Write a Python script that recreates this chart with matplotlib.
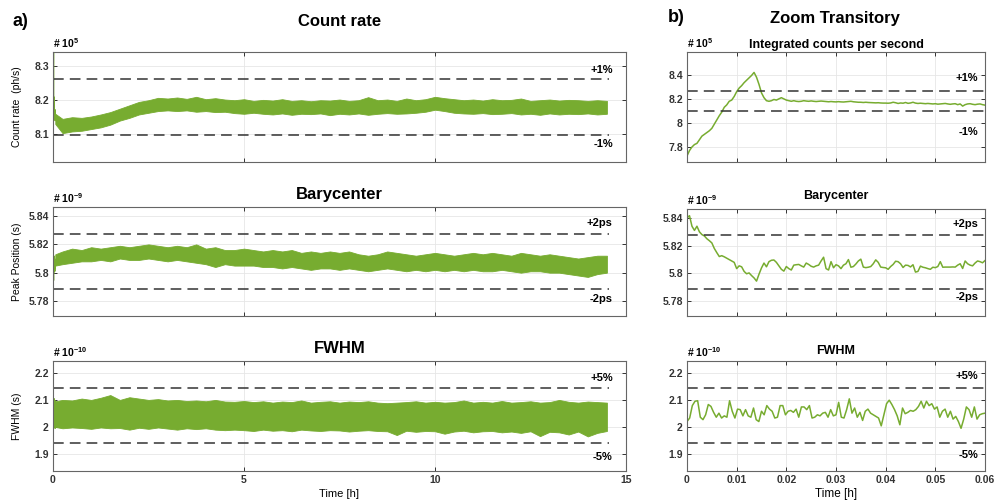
import numpy as np
import matplotlib
matplotlib.use('Agg')
import matplotlib.pyplot as plt

plt.rcParams['font.family'] = ['Liberation Sans', 'DejaVu Sans']
plt.rcParams['font.weight'] = 'bold'
plt.rcParams['mathtext.fontset'] = 'custom'
plt.rcParams['mathtext.rm'] = 'Liberation Sans:bold'
plt.rcParams['mathtext.bf'] = 'Liberation Sans:bold'
plt.rcParams['mathtext.default'] = 'bf'

green = '#77AC30'

## long run: noisy band drawn from its upper / lower envelope
t_long = [0.06, 0.25, 0.5, 0.75, 1.0, 1.25, 1.5, 1.75, 2.0, 2.25, 2.5, 2.75, 3.0, 3.25, 3.5, 3.75,
          4.0, 4.25, 4.5, 4.75, 5.0, 5.25, 5.5, 5.75, 6.0, 6.25, 6.5, 6.75, 7.0, 7.25, 7.5, 7.75,
          8.0, 8.25, 8.5, 8.75, 9.0, 9.25, 9.5, 9.75, 10.0, 10.25, 10.5, 10.75, 11.0, 11.25, 11.5,
          11.75, 12.0, 12.25, 12.5, 12.75, 13.0, 13.25, 13.5, 13.75, 14.0, 14.25, 14.5]

rate_hi = [8.16, 8.145, 8.15, 8.148, 8.152, 8.158, 8.165, 8.175, 8.185, 8.195, 8.2, 8.207, 8.205, 8.208,
           8.204, 8.21, 8.203, 8.206, 8.202, 8.2, 8.203, 8.198, 8.201, 8.199, 8.203, 8.198, 8.2, 8.197,
           8.2, 8.199, 8.202, 8.198, 8.2, 8.209, 8.2, 8.202, 8.198, 8.205, 8.2, 8.203, 8.21, 8.206, 8.203,
           8.2, 8.202, 8.199, 8.203, 8.2, 8.201, 8.205, 8.198, 8.2, 8.202, 8.199, 8.201, 8.2, 8.198, 8.2, 8.198]
rate_lo = [8.13, 8.103, 8.108, 8.11, 8.115, 8.12, 8.128, 8.14, 8.148, 8.158, 8.163, 8.168, 8.17, 8.168,
           8.17, 8.166, 8.168, 8.165, 8.166, 8.162, 8.16, 8.163, 8.16, 8.158, 8.161, 8.157, 8.16, 8.159,
           8.161, 8.156, 8.16, 8.158, 8.161, 8.157, 8.16, 8.162, 8.16, 8.161, 8.163, 8.166, 8.172, 8.168,
           8.163, 8.161, 8.16, 8.162, 8.159, 8.16, 8.162, 8.158, 8.16, 8.157, 8.161, 8.158, 8.16, 8.159,
           8.161, 8.158, 8.16]

bary_hi = [5.813, 5.815, 5.817, 5.816, 5.818, 5.817, 5.818, 5.819, 5.818, 5.819, 5.82, 5.819, 5.818, 5.819,
           5.818, 5.82, 5.817, 5.818, 5.816, 5.816, 5.817, 5.816, 5.815, 5.816, 5.815, 5.816, 5.814, 5.815,
           5.814, 5.815, 5.814, 5.815, 5.813, 5.812, 5.813, 5.815, 5.814, 5.813, 5.812, 5.813, 5.814, 5.813,
           5.812, 5.813, 5.814, 5.813, 5.814, 5.813, 5.812, 5.814, 5.813, 5.812, 5.813, 5.812, 5.811, 5.81,
           5.811, 5.812, 5.812]
bary_lo = [5.805, 5.806, 5.807, 5.808, 5.808, 5.809, 5.808, 5.81, 5.809, 5.809, 5.81, 5.809, 5.808, 5.809,
           5.808, 5.807, 5.806, 5.804, 5.806, 5.805, 5.805, 5.805, 5.804, 5.804, 5.803, 5.804, 5.803, 5.802,
           5.803, 5.803, 5.802, 5.803, 5.802, 5.801, 5.802, 5.803, 5.802, 5.801, 5.802, 5.801, 5.802, 5.801,
           5.802, 5.801, 5.802, 5.801, 5.801, 5.802, 5.801, 5.8, 5.801, 5.801, 5.8, 5.8, 5.799, 5.798,
           5.797, 5.799, 5.8]

fwhm_hi = [2.095, 2.1, 2.098, 2.105, 2.1, 2.108, 2.118, 2.1, 2.11, 2.105, 2.1, 2.103, 2.098, 2.1, 2.096,
           2.098, 2.095, 2.1, 2.094, 2.093, 2.096, 2.092, 2.095, 2.09, 2.094, 2.092, 2.098, 2.09, 2.093,
           2.095, 2.09, 2.094, 2.092, 2.095, 2.09, 2.088, 2.09, 2.092, 2.095, 2.09, 2.093, 2.09, 2.092,
           2.098, 2.09, 2.093, 2.09, 2.096, 2.09, 2.092, 2.095, 2.09, 2.092, 2.1, 2.093, 2.09, 2.094,
           2.092, 2.09]
fwhm_lo = [2.0, 1.995, 1.998, 1.996, 1.993, 1.998, 1.995, 1.996, 1.99, 1.997, 1.993, 1.998, 1.994, 1.99,
           1.995, 1.992, 1.995, 1.99, 1.988, 1.99, 1.988, 1.985, 1.99, 1.986, 1.988, 1.984, 1.99, 1.987,
           1.985, 1.988, 1.987, 1.983, 1.986, 1.988, 1.985, 1.984, 1.97, 1.986, 1.982, 1.985, 1.984, 1.975,
           1.983, 1.986, 1.98, 1.984, 1.985, 1.98, 1.983, 1.978, 1.984, 1.966, 1.982, 1.98, 1.972, 1.983,
           1.965, 1.978, 1.985]

## first 0.06 h (zoom)
rate_zoom = [7.725, 7.77, 7.80, 7.82, 7.83, 7.86, 7.89, 7.905, 7.92, 7.935,
             7.955, 7.99, 8.025, 8.06, 8.09, 8.13, 8.15, 8.18, 8.19, 8.22,
             8.26, 8.29, 8.31, 8.335, 8.355, 8.375, 8.395, 8.42, 8.38, 8.32,
             8.25, 8.21, 8.185, 8.18, 8.185, 8.195, 8.19, 8.2, 8.21, 8.2,
             8.19, 8.185, 8.18, 8.185, 8.18, 8.178, 8.18, 8.185, 8.182, 8.18,
             8.183, 8.18, 8.178, 8.18, 8.182, 8.18, 8.178, 8.176, 8.178, 8.176,
             8.175, 8.177, 8.175, 8.174, 8.176, 8.178, 8.18, 8.176, 8.174, 8.172,
             8.172, 8.17, 8.172, 8.17, 8.169, 8.168, 8.167, 8.168, 8.166, 8.165,
             8.165, 8.164, 8.166, 8.172, 8.168, 8.162, 8.166, 8.164, 8.17, 8.163,
             8.166, 8.172, 8.165, 8.162, 8.164, 8.162, 8.16, 8.162, 8.16, 8.158,
             8.16, 8.156, 8.158, 8.16, 8.162, 8.158, 8.155, 8.158, 8.16, 8.152,
             8.158, 8.14, 8.152, 8.158, 8.16, 8.155, 8.152, 8.156, 8.158, 8.152,
             8.148]

bary_zoom = [5.840, 5.8416, 5.834, 5.831, 5.834, 5.830, 5.828, 5.827, 5.825, 5.8236,
             5.822, 5.818, 5.815, 5.8122, 5.8128, 5.812, 5.811, 5.810, 5.809, 5.808,
             5.8035, 5.8055, 5.8048, 5.8015, 5.7998, 5.8004, 5.7985, 5.7968, 5.7945, 5.7995,
             5.804, 5.8075, 5.8048, 5.8085, 5.8095, 5.8097, 5.808, 5.8055, 5.803, 5.8017,
             5.805, 5.8035, 5.8025, 5.806, 5.8063, 5.8065, 5.8055, 5.8046, 5.8075, 5.8065,
             5.8052, 5.8046, 5.8055, 5.806, 5.809, 5.8117, 5.8035, 5.8025, 5.8085, 5.8041,
             5.8063, 5.8055, 5.8035, 5.806, 5.807, 5.810, 5.8045, 5.805, 5.8068, 5.809,
             5.8103, 5.8046, 5.8042, 5.8045, 5.805, 5.807, 5.8098, 5.808, 5.8046, 5.8043,
             5.8041, 5.803, 5.805, 5.8065, 5.8088, 5.8085, 5.807, 5.8043, 5.806, 5.8058,
             5.8047, 5.8063, 5.801, 5.8015, 5.8053, 5.8045, 5.8041, 5.8035, 5.803, 5.8045,
             5.8042, 5.805, 5.8085, 5.8045, 5.8046, 5.8046, 5.8046, 5.8047, 5.8046, 5.806,
             5.807, 5.8036, 5.809, 5.807, 5.806, 5.8055, 5.8075, 5.809, 5.8085, 5.8077,
             5.8093]

fwhm_zoom = [2.020, 2.033, 2.079, 2.095, 2.097, 2.036, 2.027, 2.045, 2.083, 2.076,
             2.054, 2.036, 2.051, 2.033, 2.041, 2.036, 2.097, 2.058, 2.033, 2.066,
             2.064, 2.041, 2.064, 2.041, 2.036, 2.070, 2.027, 2.020, 2.058, 2.045,
             2.079, 2.066, 2.058, 2.033, 2.036, 2.079, 2.079, 2.045, 2.058, 2.061,
             2.054, 2.066, 2.036, 2.074, 2.074, 2.064, 2.079, 2.033, 2.036, 2.045,
             2.041, 2.051, 2.054, 2.036, 2.064, 2.041, 2.045, 2.091, 2.036, 2.033,
             2.064, 2.104, 2.051, 2.070, 2.036, 2.054, 2.024, 2.058, 2.066, 2.051,
             2.045, 2.039, 2.033, 2.004, 2.045, 2.086, 2.099, 2.083, 2.064, 2.041,
             2.008, 2.070, 2.049, 2.054, 2.061, 2.058, 2.064, 2.076, 2.095, 2.070,
             2.095, 2.079, 2.086, 2.066, 2.074, 2.036, 2.058, 2.066, 2.036, 2.058,
             2.029, 2.039, 2.020, 1.995, 2.029, 2.074, 2.064, 2.036, 2.074, 2.029,
             2.045, 2.049, 2.051]

rate_ref = [8.262, 8.098]      # +1% / -1%
bary_ref = [5.8275, 5.7885]    # +2ps / -2ps
fwhm_ref = [2.143, 1.939]      # +5% / -5%

t_end = 14.55

fig = plt.figure(figsize=(9.94, 5.0), dpi=100)


def px_axes(x0, y0, x1, y1):
    return fig.add_axes([x0 / 994, 1 - y1 / 500, (x1 - x0) / 994, (y1 - y0) / 500])


def style(ax):
    ax.tick_params(direction='in', length=3, width=0.7, labelsize=7.5, top=True, right=True,
                   colors='#333333', pad=3)
    for s in ax.spines.values():
        s.set_color('#666666')
        s.set_linewidth(0.8)
    ax.grid(True, color='#e6e6e6', linewidth=0.6)
    ax.set_axisbelow(True)


def refs(ax, ref, xmax, labels, xl, ys):
    for r in ref:
        ax.plot([0, xmax], [r, r], color='#333333', lw=1.1, dashes=(7, 4))
    ax.text(xl, ys[0], labels[0], transform=ax.transAxes, ha='right', va='center', fontsize=8)
    ax.text(xl, ys[1], labels[1], transform=ax.transAxes, ha='right', va='center', fontsize=8)


t_zoom = np.linspace(0, 0.06, len(rate_zoom))
t_zoom_b = np.linspace(0, 0.06, len(bary_zoom))
t_zoom_f = np.linspace(0, 0.06, len(fwhm_zoom))

left_rows = [
    (52, 162, rate_hi, rate_lo, t_zoom, rate_zoom, (8.018, 8.342), [8.1, 8.2, 8.3], '5',
     'Count rate  (ph/s)', 'Count rate', 19, rate_ref, ('+1%', '-1%'), (0.836, 0.164)),
    (207, 316, bary_hi, bary_lo, t_zoom_b, bary_zoom, (5.7694, 5.8464), [5.78, 5.8, 5.82, 5.84], '-9',
     'Peak Position (s)', 'Barycenter', 6, bary_ref, ('+2ps', '-2ps'), (0.853, 0.156)),
    (361, 471, fwhm_hi, fwhm_lo, t_zoom_f, fwhm_zoom, (1.837, 2.244), [1.9, 2, 2.1, 2.2], '-10',
     'FWHM (s)', 'FWHM', 6, fwhm_ref, ('+5%', '-5%'), (0.845, 0.127)),
]

for i, (y0, y1, hi, lo, tz, z, ylim, yt, expo, ylab, title, tpad, ref, labs, ys) in enumerate(left_rows):
    ax = px_axes(53, y0, 626, y1)
    style(ax)
    ax.fill_between(t_long, lo, hi, color=green, lw=0.6, edgecolor=green)
    ax.plot(tz, z, color=green, lw=1.0)
    ax.plot([tz[-1], t_long[0]], [z[-1], (hi[0] + lo[0]) / 2], color=green, lw=1.0)
    refs(ax, ref, t_end, labs, 0.977, ys)
    ax.set_xlim(0, 15)
    ax.set_ylim(*ylim)
    ax.set_xticks([0, 5, 10, 15])
    ax.set_yticks(yt)
    ax.set_yticklabels([f'{v:g}' for v in yt])
    ax.set_ylabel(ylab, fontsize=7.5)
    ax.yaxis.set_label_coords(-0.054, 0.5)
    ax.text(0, 1.02, '# 10$^{' + expo + '}$', transform=ax.transAxes, fontsize=7.5, va='bottom')
    ax.set_title(title, fontsize=12, fontweight='bold', pad=tpad)
    if i < 2:
        ax.set_xticklabels([])
    else:
        ax.set_xlabel('Time [h]', fontsize=8, labelpad=3)

right_rows = [
    (52, 162, t_zoom, rate_zoom, (7.675, 8.59), [7.8, 8, 8.2, 8.4], '5',
     'Integrated counts per second', 3, rate_ref, ('+1%', '-1%'), (0.764, 0.273)),
    (209, 316, t_zoom_b, bary_zoom, (5.7694, 5.8464), [5.78, 5.8, 5.82, 5.84], '-9',
     'Barycenter', 7, bary_ref, ('+2ps', '-2ps'), (0.862, 0.174)),
    (361, 471, t_zoom_f, fwhm_zoom, (1.837, 2.244), [1.9, 2, 2.1, 2.2], '-10',
     'FWHM', 5, fwhm_ref, ('+5%', '-5%'), (0.864, 0.145)),
]

for i, (y0, y1, tz, z, ylim, yt, expo, title, tpad, ref, labs, ys) in enumerate(right_rows):
    ax = px_axes(687, y0, 985, y1)
    style(ax)
    ax.plot(tz, z, color=green, lw=1.1)
    refs(ax, ref, 0.06, labs, 0.977, ys)
    ax.set_xlim(0, 0.06)
    ax.set_ylim(*ylim)
    ax.set_xticks([0, 0.01, 0.02, 0.03, 0.04, 0.05, 0.06])
    ax.set_yticks(yt)
    ax.set_yticklabels([f'{v:g}' for v in yt])
    ax.text(0, 1.02, '# 10$^{' + expo + '}$', transform=ax.transAxes, fontsize=7.5, va='bottom')
    ax.set_title(title, fontsize=9, fontweight='bold', pad=tpad)
    if i < 2:
        ax.set_xticklabels([])
    else:
        ax.set_xticklabels(['0', '0.01', '0.02', '0.03', '0.04', '0.05', '0.06'])
        ax.set_xlabel('Time [h]', fontsize=8.5, labelpad=2)

fig.text(20 / 994, 1 - 22 / 500, 'a)', fontsize=13, fontweight='bold', ha='center', va='center')
fig.text(676 / 994, 1 - 18 / 500, 'b)', fontsize=13, fontweight='bold', ha='center', va='center')
fig.text(835 / 994, 1 - 18 / 500, 'Zoom Transitory', fontsize=12, fontweight='bold', ha='center', va='center')

plt.savefig('out.png', dpi=100)
